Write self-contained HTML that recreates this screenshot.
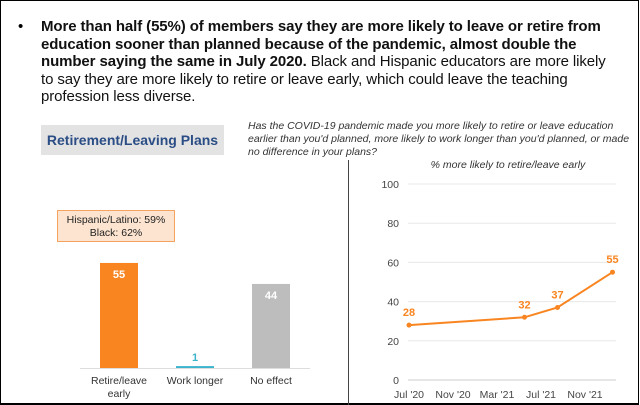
<!DOCTYPE html>
<html><head><meta charset="utf-8"><style>
body{margin:0;width:640px;height:405px;overflow:hidden;background:#fff;font-family:"Liberation Sans",Arial,sans-serif}
#frame{position:absolute;left:0;top:0;width:637px;height:402px;border:1.5px solid #000;border-bottom-width:2px}
#bullet{position:absolute;left:18px;top:18px;font-size:15px}
#text{position:absolute;left:41px;top:18px;font-size:15px;line-height:17.5px;color:#111;white-space:nowrap;letter-spacing:-0.1px}
#title{position:absolute;left:41px;top:125px;width:183px;height:30px;background:#e3e3e3;color:#2a4d85;font-weight:bold;font-size:14px;line-height:30px;text-align:center}
#question{position:absolute;left:248px;top:120px;font-size:10.5px;font-style:italic;color:#333;line-height:13px;white-space:nowrap}
#callout{position:absolute;left:57px;top:210px;width:118px;height:32px;background:#fde4d0;border:1px solid #f4a460;font-size:10.5px;text-align:center;line-height:13px;padding-top:3px;box-sizing:border-box;color:#222}
#divider{position:absolute;left:348px;top:160px;width:1px;height:245px;background:#444}
</style></head><body>
<div id="frame"></div>
<div id="bullet">•</div>
<div id="text"><b>More than half (55%) of members say they are more likely to leave or retire from<br>education sooner than planned because of the pandemic, almost double the<br>number saying the same in July 2020.</b> Black and Hispanic educators are more likely<br>to say they are more likely to retire or leave early, which could leave the teaching<br>profession less diverse.</div>
<div id="title">Retirement/Leaving Plans</div>
<div id="question">Has the COVID-19 pandemic made you more likely to retire or leave education<br>earlier than you'd planned, more likely to work longer than you'd planned, or made<br>no difference in your plans?</div>
<div id="callout">Hispanic/Latino: 59%<br>Black: 62%</div>
<div id="divider"></div>
<svg id="chart" width="640" height="405" style="position:absolute;left:0;top:0"></svg>
<script>
const barCats=["Retire/leave|early","Work longer","No effect"];
const barVals=[55,1,44];
const barColors=["#f98520","#3bb4cc","#bdbdbd"];
const lineMonths=[0,10.5,13.5,18.5];
const lineVals=[28,32,37,55];
const xTickLabels=["Jul '20","Nov '20","Mar '21","Jul '21","Nov '21"];
const xTickMonths=[0,4,8,12,16];
const yTicks=[0,20,40,60,80,100];
const NS="http://www.w3.org/2000/svg";
const svg=document.getElementById('chart');
function mk(t,a,txt){const e=document.createElementNS(NS,t);for(const k in a)e.setAttribute(k,a[k]);if(txt!==undefined)e.textContent=txt;svg.appendChild(e);return e;}
// bar chart
const by=v=>368-v*1.91;
const bx=i=>100+i*76;
let ax=mk('line',{x1:80,x2:310,y1:368.5,y2:368.5,stroke:'#ddd'});

barVals.forEach((v,i)=>{
 const r=mk('rect',{x:bx(i),y:by(v),width:38,height:Math.max(368-by(v),1.5),fill:barColors[i]});
 
 const inside=v>10;
 const t=mk('text',{x:bx(i)+19,y:inside?by(v)+15:by(v)-5,'text-anchor':'middle','font-size':11,'font-weight':'bold',fill:inside?'#fff':barColors[i]},v);
 
 barCats[i].split('|').forEach((s,j)=>{const l=mk('text',{x:bx(i)+19,y:384+j*13,'text-anchor':'middle','font-size':10.5,fill:'#333'},s);
 });
});
// line chart
const ly=v=>380-v*1.96;
const lx=m=>409+m*11;
const st=mk('text',{x:508,y:168,'text-anchor':'middle','font-size':10.5,'font-style':'italic',fill:'#333'},'% more likely to retire/leave early');

yTicks.forEach(v=>{
 const g=mk('line',{x1:408,x2:616,y1:ly(v),y2:ly(v),stroke:v===0?'#ccc':'#e8e8e8'});
 
 const t=mk('text',{x:399,y:ly(v)+4,'text-anchor':'end','font-size':10.5,fill:'#444'},v);
 
});
xTickLabels.forEach((s,i)=>{const t=mk('text',{x:lx(xTickMonths[i]),y:398,'text-anchor':'middle','font-size':10.5,fill:'#444'},s);
 });
const p=mk('polyline',{points:lineMonths.map((m,i)=>lx(m)+','+ly(lineVals[i])).join(' '),fill:'none',stroke:'#f98520','stroke-width':2});

lineMonths.forEach((m,i)=>{
 const c=mk('circle',{cx:lx(m),cy:ly(lineVals[i]),r:2.5,fill:'#f98520'});
 
 const t=mk('text',{x:lx(m),y:ly(lineVals[i])-9,'text-anchor':'middle','font-size':11,'font-weight':'bold',fill:'#f98520'},lineVals[i]);
 
});
</script>
</body></html>
